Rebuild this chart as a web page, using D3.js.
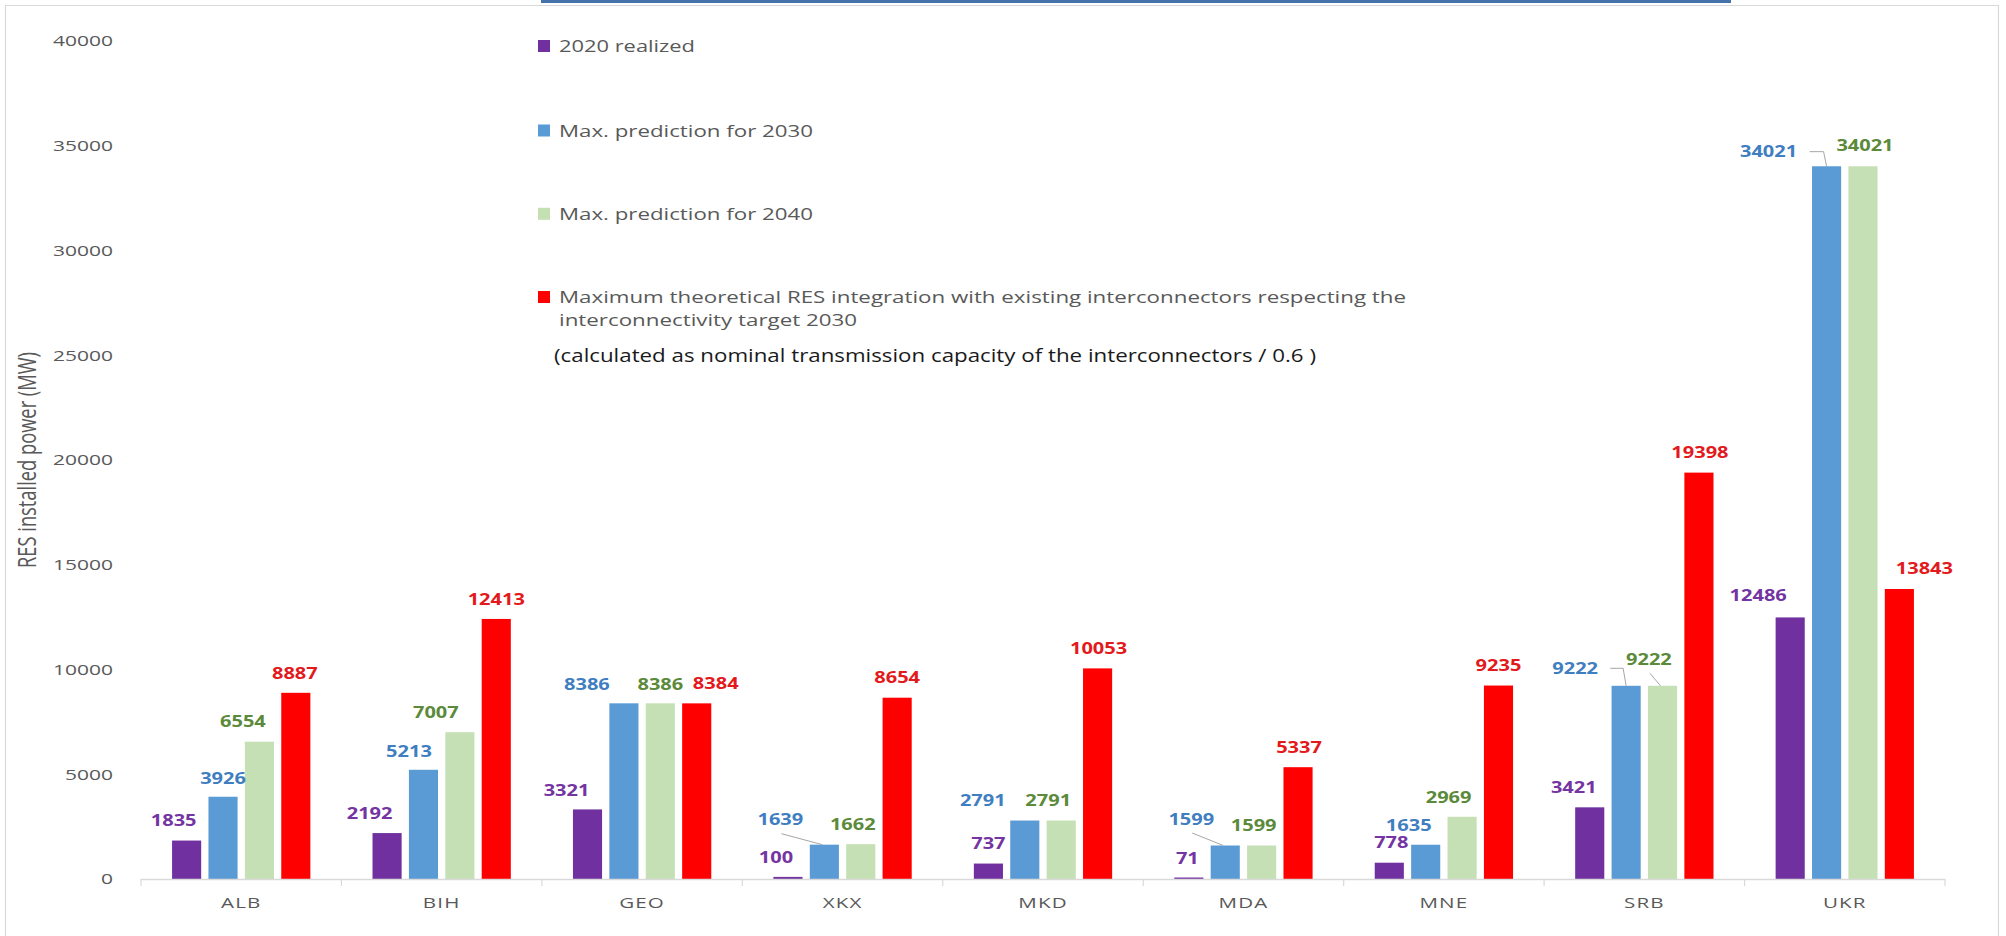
<!DOCTYPE html>
<html><head><meta charset="utf-8">
<script src="https://cdn.jsdelivr.net/npm/d3@7"></script>
<style>
body{margin:0;background:#fff;}
svg{display:block;font-family:"Open Sans",sans-serif;}
</style>
</head><body>
<svg id="chart" width="2006" height="936"></svg>
<script>
// ---------- data ----------
const categories = ["ALB","BIH","GEO","XKX","MKD","MDA","MNE","SRB","UKR"];
const seriesKeys = ["realized2020","prediction2030","prediction2040","maxTheoretical"];
const seriesNames = [
  "2020 realized",
  "Max. prediction for 2030",
  "Max. prediction for 2040",
  "Maximum theoretical RES integration with existing interconnectors respecting the interconnectivity target 2030"
];
const realized2020   = [1835, 2192, 3321,  100,   737,   71,  778,  3421, 12486];
const prediction2030 = [3926, 5213, 8386, 1639,  2791, 1599, 1635,  9222, 34021];
const prediction2040 = [6554, 7007, 8386, 1662,  2791, 1599, 2969,  9222, 34021];
const maxTheoretical = [8887,12413, 8384, 8654, 10053, 5337, 9235, 19398, 13843];
const yTicks = [0,5000,10000,15000,20000,25000,30000,35000,40000];
const yTitle = "RES installed power (MW)";
const noteText = "(calculated as nominal transmission capacity of the interconnectors / 0.6 )";

// ---------- layout / style (not data) ----------
const colors = ["#7030A0","#5B9BD5","#C5E0B4","#FF0000"];
const labelColors = ["#7434A2","#3F7EC0","#5B8A3A","#E3191C"];
// label nudges [dx from bar centre, dy of label centre from bar top]
const labelNudge = [
 [[-13,-20],[0,-19],[-16.5,-20],[-1,-20]],
 [[-17.5,-20],[-14.5,-19],[-24,-20],[0,-20]],
 [[-21,-19],[-37,-19],[0,-19],[19,-20]],
 [[-12,-20],[-44,-25],[-8,-20],[0,-20]],
 [[0,-20],[-42,-20],[-13,-20],[1,-20]],
 [[-1.5,-19.5],[-34,-26.5],[-8,-20],[1,-19.5]],
 [[2,-20],[-17,-19.5],[-13.5,-19.5],[0,-20]],
 [[-16,-20],[-51,-17.5],[-13.6,-26.5],[1,-20]],
 [[-32,-22],[-58,-14.6],[2,-20.6],[25,-20.7]]
];
const leaders = [
 {c:3, s:1, type:"diag"},
 {c:5, s:1, type:"diag"},
 {c:7, s:2, type:"diag"},
 {c:7, s:1, type:"elbow"},
 {c:8, s:1, type:"elbow"}
];

const seriesValues = [realized2020, prediction2030, prediction2040, maxTheoretical];
const rows = categories.map((c,i)=>({cat:c, i, vals: seriesKeys.map((k,j)=>({key:k, j, v: seriesValues[j][i]}))}));

const svg = d3.select("#chart");

// frame
svg.append("path").attr("d","M5.5,936 V5.5 H1998.5 V936").attr("fill","none").attr("stroke","#D9D9D9").attr("stroke-width",1.2);
svg.append("rect").attr("x",541).attr("y",0).attr("width",1190).attr("height",3).attr("fill","#4672AB");

const x0 = d3.scaleBand().domain(categories).range([141,1945]).paddingInner(0.31).paddingOuter(0.155);
const x1 = d3.scaleBand().domain(seriesKeys).range([0,x0.bandwidth()]).paddingInner(0.2);
const y = d3.scaleLinear().domain([0,40000]).range([879,41]);

// y axis
const yAxis = svg.append("g").attr("transform","translate(113,0)")
  .call(d3.axisLeft(y).tickValues(yTicks).tickSize(0).tickPadding(0).tickFormat(d3.format("d")));
yAxis.select(".domain").remove();
yAxis.selectAll("text").attr("font-size",15).attr("fill","#595959")
  .attr("font-family","'Open Sans',sans-serif")
  .attr("transform","scale(1.4,1)");

// y title
svg.append("text").attr("transform","translate(27,460) scale(1.4,1) rotate(-90)")
  .attr("text-anchor","middle").attr("dy","0.36em")
  .attr("font-size",18).attr("fill","#595959")
  .attr("textLength",216).attr("lengthAdjust","spacingAndGlyphs")
  .text(yTitle);

// bars
const groups = svg.append("g").selectAll("g").data(rows).join("g")
  .attr("transform",d=>`translate(${x0(d.cat)},0)`);
groups.selectAll("rect").data(d=>d.vals).join("rect")
  .attr("x",d=>x1(d.key)).attr("width",x1.bandwidth())
  .attr("y",d=>y(d.v)).attr("height",d=>y(0)-y(d.v))
  .attr("fill",d=>colors[d.j]);

// x axis
svg.append("line").attr("x1",141).attr("x2",1945).attr("y1",879.5).attr("y2",879.5)
  .attr("stroke","#D9D9D9").attr("stroke-width",1.3);
const bounds = categories.map(c=>x0(c)-x0.paddingInner()*x0.step()/2).concat([1945]);
svg.append("g").selectAll("line").data(bounds).join("line")
  .attr("x1",d=>d).attr("x2",d=>d).attr("y1",879).attr("y2",886)
  .attr("stroke","#D9D9D9").attr("stroke-width",1.2);
const xAxis = svg.append("g").attr("transform","translate(0,903)")
  .call(d3.axisBottom(x0).tickSize(0).tickPadding(0));
xAxis.select(".domain").remove();
xAxis.selectAll("text").attr("y",0).attr("dy","0.36em").attr("font-size",14.5).attr("fill","#595959")
  .attr("font-family","'Open Sans',sans-serif").attr("letter-spacing",0.8)
  .attr("transform","scale(1.42,1)");

// data labels
const labelG = svg.append("g");
const labelPos = [];
rows.forEach(r=>{
  r.vals.forEach(d=>{
    const bx = x0(r.cat)+x1(d.key)+x1.bandwidth()/2;
    const top = y(d.v);
    const n = labelNudge[r.i][d.j];
    const lx = bx+n[0], ly = top+n[1];
    labelPos.push({c:r.i, s:d.j, bx, top, lx, ly, txt:String(d.v)});
    labelG.append("text").attr("transform",`translate(${lx},${ly}) scale(1.25,1)`)
      .attr("text-anchor","middle").attr("dy","0.36em")
      .attr("font-size",16).attr("font-weight",700).attr("fill",labelColors[d.j])
      .text(d.v);
  });
});
// leader lines
leaders.forEach(L=>{
  const p = labelPos.find(q=>q.c===L.c && q.s===L.s);
  let pts;
  if(L.type==="diag"){
    pts = [[p.lx+1,p.ly+14],[p.bx-2,p.top]];
  } else {
    const hw = p.txt.length*11.6/2;
    pts = [[p.lx+hw+12,p.ly],[p.bx-3,p.ly],[p.bx,p.top]];
  }
  svg.append("path").attr("d",d3.line()(pts)).attr("fill","none")
    .attr("stroke","#A6A6A6").attr("stroke-width",1);
});

// legend
const legendY = [46,130.5,213.8,297];
const legendWidths = [136,254,254,847];
const legendLines = [[seriesNames[0]],[seriesNames[1]],[seriesNames[2]],
  [seriesNames[3].slice(0, seriesNames[3].indexOf(" interconnectivity")), seriesNames[3].slice(seriesNames[3].indexOf(" interconnectivity")+1)]];
const lineWidths = [[136],[254],[254],[847,298]];
const lg = svg.append("g");
seriesNames.forEach((nm,j)=>{
  lg.append("rect").attr("x",538).attr("y",legendY[j]-6).attr("width",12).attr("height",12).attr("fill",colors[j]);
  legendLines[j].forEach((ln,k)=>{
    lg.append("text").attr("x",559).attr("y",legendY[j]+k*22.5).attr("dy","0.36em")
      .attr("font-size",17).attr("fill","#595959")
      .attr("textLength",lineWidths[j][k]).attr("lengthAdjust","spacingAndGlyphs")
      .text(ln);
  });
});
svg.append("text").attr("x",554).attr("y",356).attr("dy","0.36em")
  .attr("font-size",18).attr("fill","#1a1a1a")
  .attr("textLength",762).attr("lengthAdjust","spacingAndGlyphs")
  .text(noteText);
</script>
</body></html>
